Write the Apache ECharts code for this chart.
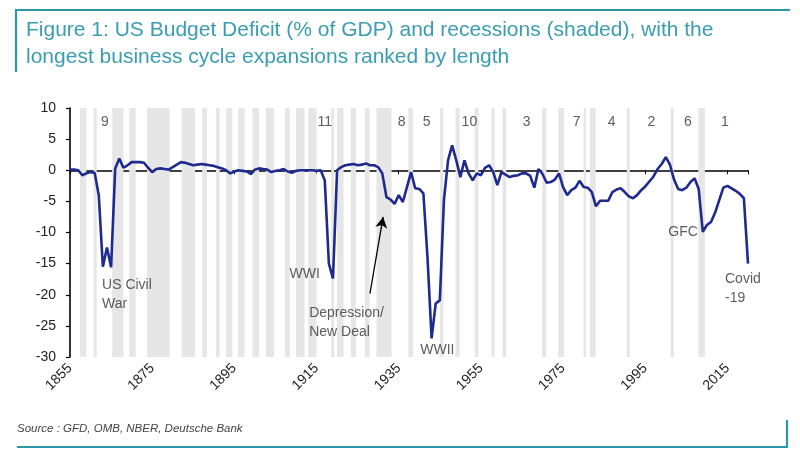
<!DOCTYPE html>
<html>
<head>
<meta charset="utf-8">
<script src="https://cdn.jsdelivr.net/npm/echarts@6/dist/echarts.min.js"></script>
<style>
html,body{margin:0;padding:0;background:#fff;}
#chart{width:800px;height:456px;}
</style>
</head>
<body>
<div id="chart"></div>
<script>
// ---- Data ----
var years = [];
for (var yy = 1855; yy <= 2020; yy++) years.push(yy);

var deficit = [
  // 1855-1864
  0.1, 0.1, 0.0, -0.8, -0.5, -0.3, -0.4, -4.0, -15.5, -12.4,
  // 1865-1874
  -15.6, 0.3, 1.9, 0.4, 0.8, 1.3, 1.3, 1.3, 1.2, 0.4,
  // 1875-1884
  -0.3, 0.2, 0.3, 0.2, 0.1, 0.5, 0.9, 1.3, 1.2, 1.0,
  // 1885-1894
  0.8, 0.9, 1.0, 0.9, 0.8, 0.7, 0.5, 0.3, 0.0, -0.5,
  // 1895-1904
  -0.2, 0.0, -0.1, -0.2, -0.6, 0.1, 0.3, 0.2, 0.1, -0.3,
  // 1905-1914
  -0.1, 0.0, 0.2, -0.2, -0.4, -0.1, 0.0, 0.0, 0.0, 0.0,
  // 1915-1924
  -0.1, 0.0, -1.6, -15.0, -17.4, 0.0, 0.5, 0.8, 0.9, 1.0,
  // 1925-1934
  0.8, 0.9, 1.1, 0.8, 0.8, 0.5, -0.5, -4.3, -4.7, -5.4,
  // 1935-1944
  -4.0, -5.1, -2.7, -0.3, -2.9, -3.0, -3.7, -14.0, -27.0, -21.4,
  // 1945-1954
  -20.9, -4.8, 1.6, 4.0, 1.6, -1.1, 1.6, -0.5, -1.6, -0.5,
  // 1955-1964
  -0.8, 0.4, 0.8, -0.3, -2.4, -0.3, -0.7, -1.1, -0.9, -0.8,
  // 1965-1974
  -0.5, -0.5, -0.9, -2.8, 0.2, -0.6, -2.0, -1.9, -1.5, -0.5,
  // 1975-1984
  -2.7, -4.0, -3.2, -2.8, -1.7, -2.7, -2.8, -3.5, -5.8, -4.9,
  // 1985-1994
  -4.9, -4.9, -3.5, -3.1, -2.9, -3.5, -4.2, -4.5, -4.0, -3.2,
  // 1995-2004
  -2.6, -1.8, -1.0, 0.2, 1.0, 2.1, 0.9, -1.5, -3.0, -3.2,
  // 2005-2014
  -2.8, -1.9, -1.3, -3.0, -9.9, -8.8, -8.3, -6.8, -4.8, -2.8,
  // 2015-2020
  -2.5, -2.9, -3.3, -3.8, -4.5, -15.0
];

// NBER recessions (peak, trough) as fractional years
var recessionStart = [1857.42, 1860.75, 1865.25, 1869.42, 1873.75, 1882.17, 1887.17, 1890.5, 1893.0, 1895.92,
  1899.42, 1902.67, 1907.33, 1910.0, 1913.0, 1918.58, 1920.0, 1923.33, 1926.75, 1929.58,
  1937.33, 1945.08, 1948.83, 1953.5, 1957.58, 1960.25, 1969.92, 1973.83, 1980.0, 1981.5,
  1990.5, 2001.17, 2007.92, 2020.08];
var recessionEnd = [1859.0, 1861.5, 1868.0, 1871.0, 1879.25, 1885.42, 1888.33, 1891.42, 1894.5, 1897.5,
  1901.0, 1904.67, 1908.5, 1912.08, 1915.0, 1919.25, 1921.58, 1924.58, 1927.92, 1933.25,
  1938.5, 1945.83, 1949.83, 1954.42, 1958.33, 1961.17, 1970.92, 1975.25, 1980.58, 1982.92,
  1991.25, 2001.92, 2009.5, 2020.4];

// Expansion ranks (by length) and their label positions (year, value)
var rankLabels = ['9', '11', '8', '5', '10', '3', '7', '4', '2', '6', '1'];
var rankYears = [1863.5, 1917.0, 1935.7, 1941.8, 1952.2, 1966.1, 1978.3, 1986.8, 1996.5, 2005.4, 2014.4];
var rankValue = 7.7;

// Event annotations
var eventLabels = ['US Civil\nWar', 'WWI', 'Depression/\nNew Deal', 'WWII', 'GFC', 'Covid\n-19'];
var eventYears = [1862.8, 1915.8, 1913.2, 1944.4, 2007.8, 2014.4];
var eventValues = [-17.0, -16.7, -21.5, -28.9, -10.0, -15.9];
var eventAlign = ['left', 'right', 'left', 'center', 'right', 'left'];
var eventVAlign = ['top', 'middle', 'top', 'middle', 'middle', 'top'];

// Arrow (Depression/New Deal)
var arrowFrom = [1928.0, -19.8];
var arrowTo = [1931.2, -7.5];

var yTicks = [-30, -25, -20, -15, -10, -5, 0, 5, 10];
var xTickStep = 20;

// ---- Chart ----
var chart = echarts.init(document.getElementById('chart'), null, {renderer: 'canvas'});
var teal = '#2b98aa';
var txtFont = 'Liberation Sans, Arial, sans-serif';

var lineData = years.map(function (y, i) { return [y, deficit[i]]; });
var areas = recessionStart.map(function (s, i) { return [{xAxis: s}, {xAxis: recessionEnd[i]}]; });
var rankData = rankLabels.map(function (t, i) { return {name: t, value: [rankYears[i], rankValue]}; });
var eventData = eventLabels.map(function (t, i) {
  return {
    name: t, value: [eventYears[i], eventValues[i]],
    label: {align: eventAlign[i], verticalAlign: eventVAlign[i]}
  };
});

var option = {
  animation: false,
  backgroundColor: '#ffffff',
  grid: {left: 70, right: 52, top: 108, bottom: 99, containLabel: false},
  xAxis: [{
    type: 'value', min: 1855, max: 2020, interval: xTickStep,
    axisLine: {show: false, onZero: false},
    axisTick: {show: false},
    splitLine: {show: false},
    axisLabel: {rotate: 45, margin: 9, fontSize: 14, color: '#222', fontFamily: txtFont,
      showMaxLabel: false, formatter: function (v) { return String(v); }}
  }, {
    type: 'value', min: 1855, max: 2020, interval: xTickStep, position: 'bottom',
    axisLine: {show: true, onZero: true, lineStyle: {color: '#000', width: 1.6}},
    axisTick: {show: true, length: 4, lineStyle: {color: '#000', width: 1}},
    splitLine: {show: false},
    axisLabel: {show: false}
  }],
  yAxis: {
    type: 'value', min: yTicks[0], max: yTicks[yTicks.length - 1], interval: 5,
    axisLine: {show: true, onZero: false, lineStyle: {color: '#000', width: 1.6}},
    axisTick: {show: true, length: 4, lineStyle: {color: '#000', width: 1.2}},
    splitLine: {show: false},
    axisLabel: {fontSize: 14, color: '#222', margin: 14, fontFamily: txtFont}
  },
  series: [{
    type: 'line',
    name: 'Deficit',
    data: lineData,
    showSymbol: false,
    symbol: 'none',
    lineStyle: {color: '#1f2a8e', width: 2.6},
    z: 5,
    markArea: {
      silent: true,
      itemStyle: {color: '#e6e6e6'},
      data: areas
    },
    markLine: {
      silent: true,
      symbol: ['none', 'arrow'],
      symbolSize: [9, 11],
      label: {show: false},
      lineStyle: {color: '#000', width: 1.3, type: 'solid'},
      data: [[{coord: arrowFrom}, {coord: arrowTo}]]
    }
  }, {
    type: 'scatter',
    name: 'ranks',
    data: rankData,
    symbolSize: 0,
    silent: true,
    z: 6,
    label: {show: true, position: [0, 0], align: 'center', verticalAlign: 'middle',
      formatter: '{b}', fontSize: 14, color: '#333', fontFamily: txtFont}
  }, {
    type: 'scatter',
    name: 'events',
    data: eventData,
    symbolSize: 0,
    silent: true,
    z: 6,
    label: {show: true, position: [0, 0], formatter: '{b}', fontSize: 14, lineHeight: 19,
      color: '#333', fontFamily: txtFont}
  }],
  graphic: [
    {type: 'line', shape: {x1: 16, y1: 10, x2: 790, y2: 10}, style: {stroke: teal, lineWidth: 2.2}},
    {type: 'line', shape: {x1: 16, y1: 9, x2: 16, y2: 72}, style: {stroke: teal, lineWidth: 2.2}},
    {type: 'text', x: 26, y: 30.5, style: {text: 'Figure 1: US Budget Deficit (% of GDP) and recessions (shaded), with the',
      font: '21px ' + txtFont, fill: '#3a9db1', verticalAlign: 'middle'}},
    {type: 'text', x: 26, y: 57, style: {text: 'longest business cycle expansions ranked by length',
      font: '21px ' + txtFont, fill: '#3a9db1', verticalAlign: 'middle'}},
    {type: 'text', x: 17, y: 429, style: {text: 'Source : GFD, OMB, NBER, Deutsche Bank',
      font: 'italic 11.5px ' + txtFont, fill: '#444', verticalAlign: 'middle'}},
    {type: 'line', shape: {x1: 17, y1: 447, x2: 788, y2: 447}, style: {stroke: teal, lineWidth: 2.2}},
    {type: 'line', shape: {x1: 787, y1: 420, x2: 787, y2: 448}, style: {stroke: teal, lineWidth: 2.2}}
  ]
};
chart.setOption(option);
</script>
</body>
</html>
